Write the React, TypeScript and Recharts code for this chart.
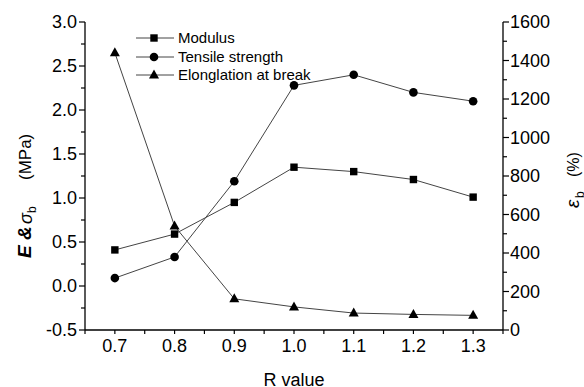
import { LineChart, Line, XAxis, YAxis, Label } from 'recharts';

const rValues = [0.7, 0.8, 0.9, 1.0, 1.1, 1.2, 1.3];
const modulus = [0.41, 0.59, 0.95, 1.35, 1.3, 1.21, 1.01];
const tensileStrength = [0.09, 0.33, 1.19, 2.28, 2.4, 2.2, 2.1];
const elongation = [1440, 540, 162, 120, 88, 81, 76];

const xTicks = [0.65, 0.7, 0.75, 0.8, 0.85, 0.9, 0.95, 1.0, 1.05, 1.1, 1.15, 1.2, 1.25, 1.3, 1.35];
const leftTicks = [-0.5, -0.25, 0, 0.25, 0.5, 0.75, 1.0, 1.25, 1.5, 1.75, 2.0, 2.25, 2.5, 2.75, 3.0];
const rightTicks = [0, 100, 200, 300, 400, 500, 600, 700, 800, 900, 1000, 1100, 1200, 1300, 1400, 1500, 1600];

const series = [
  { key: 'modulus', name: 'Modulus', shape: 'square', yAxisId: 'left' },
  { key: 'tensile', name: 'Tensile strength', shape: 'circle', yAxisId: 'left' },
  { key: 'elongation', name: 'Elonglation at break', shape: 'triangle', yAxisId: 'right' },
];

const data = rValues.map((r, i) => ({
  r,
  modulus: modulus[i],
  tensile: tensileStrength[i],
  elongation: elongation[i],
}));

const FONT = '"Liberation Sans", Arial, sans-serif';
const LINE_COLOR = '#444';
const TICK_SIZE = 4;
const TICK_MARGIN = 4;

const Marker = ({ shape, cx, cy }: { shape: string; cx: number; cy: number }) => {
  if (shape === 'square') return <rect x={cx - 3.7} y={cy - 3.7} width={7.4} height={7.4} fill="#000" />;
  if (shape === 'circle') return <circle cx={cx} cy={cy} r={4.3} fill="#000" />;
  return <polygon points={`${cx},${cy - 5.5} ${cx - 5},${cy + 3.5} ${cx + 5},${cy + 3.5}`} fill="#000" />;
};

const renderDot = (shape: string) => (props: any) => {
  const { cx, cy, index } = props;
  if (cx == null || cy == null) return <g key={`d-${shape}-${index}`} />;
  return (
    <g key={`d-${shape}-${index}`}>
      <Marker shape={shape} cx={cx} cy={cy} />
    </g>
  );
};

// half-step values get a bare tick, whole steps get a longer tick and a label
const isMajor = (v: number, step: number) => Math.abs(v / step - Math.round(v / step)) < 1e-6;

const XTick = (props: any) => {
  const { x, y, payload } = props;
  const v = payload.value;
  const major = isMajor(v, 0.1);
  const axisY = y - TICK_SIZE - TICK_MARGIN;
  return (
    <g>
      <line x1={x} x2={x} y1={axisY} y2={axisY + TICK_SIZE} stroke="#000" strokeWidth={1.2} />
      {major && (
        <text x={x} y={axisY + 22} textAnchor="middle" fontSize={18} fontFamily={FONT} fill="#000">
          {v.toFixed(1)}
        </text>
      )}
    </g>
  );
};

const LeftTick = (props: any) => {
  const { x, y, payload } = props;
  const v = payload.value;
  const major = isMajor(v, 0.5);
  const axisX = x + TICK_SIZE + TICK_MARGIN;
  return (
    <g>
      <line x1={axisX} x2={axisX - (major ? 6 : 4)} y1={y} y2={y} stroke="#000" strokeWidth={1.2} />
      {major && (
        <text x={axisX - 8} y={y + 6} textAnchor="end" fontSize={18} fontFamily={FONT} fill="#000">
          {v.toFixed(1)}
        </text>
      )}
    </g>
  );
};

const RightTick = (props: any) => {
  const { x, y, payload } = props;
  const v = payload.value;
  const major = v % 200 === 0;
  const axisX = x - TICK_SIZE - TICK_MARGIN;
  return (
    <g>
      <line x1={axisX} x2={axisX + (major ? 6 : 4)} y1={y} y2={y} stroke="#000" strokeWidth={1.2} />
      {major && (
        <text x={axisX + 7} y={y + 6} textAnchor="start" fontSize={18} fontFamily={FONT} fill="#000">
          {v}
        </text>
      )}
    </g>
  );
};

// rotated titles: local x runs upward from the bottom of the text
const LeftLabel = (props: any) => {
  const { viewBox } = props;
  const y0 = viewBox.y + viewBox.height / 2 + 82;
  const x0 = 31;
  return (
    <text transform={`translate(${x0} ${y0}) rotate(-90)`} fontFamily={FONT} fill="#000">
      <tspan x={0} y={0} fontWeight="bold" fontStyle="italic" fontSize={19}>E &amp;</tspan>
      <tspan x={34} y={1} fontStyle="italic" fontSize={18}>σ</tspan>
      <tspan x={45} y={5} fontSize={12}>b</tspan>
      <tspan x={78} y={0} fontSize={17}>(MPa)</tspan>
    </text>
  );
};

const RightLabel = (props: any) => {
  const { viewBox } = props;
  const y0 = viewBox.y + viewBox.height / 2 + 32;
  const x0 = 579;
  return (
    <text transform={`translate(${x0} ${y0}) rotate(-90)`} fontFamily={FONT} fill="#000">
      <tspan x={0} y={0} fontStyle="italic" fontSize={19}>ε</tspan>
      <tspan x={10} y={5} fontSize={12}>b</tspan>
      <tspan x={31} y={0} fontSize={16}>(%)</tspan>
    </text>
  );
};

const ChartLegend = () => (
  <div
    style={{
      position: 'absolute',
      left: 136,
      top: 29,
      fontFamily: FONT,
      fontSize: 15,
      lineHeight: '18.5px',
      color: '#000',
    }}
  >
    {series.map((s) => (
      <div key={s.key} style={{ display: 'flex', alignItems: 'center', height: 18.5 }}>
        <svg width={38} height={14} style={{ marginRight: 4 }}>
          <line x1={0} x2={38} y1={7} y2={7} stroke={LINE_COLOR} strokeWidth={1} />
          <Marker shape={s.shape} cx={18} cy={7} />
        </svg>
        <span>{s.name}</span>
      </div>
    ))}
  </div>
);

export default function App() {
  return (
    <div style={{ position: 'absolute', left: 0, top: 0, width: 584, height: 387, background: '#fff' }}>
      <LineChart width={584} height={387} data={data} margin={{ top: 22, right: 21, left: 25, bottom: 27 }}>
        {/* frame top edge */}
        <XAxis
          xAxisId="top"
          orientation="top"
          dataKey="r"
          type="number"
          domain={[0.65, 1.35]}
          tick={false}
          tickLine={false}
          axisLine={{ stroke: '#000', strokeWidth: 1.3 }}
          height={0}
        />
        <XAxis
          dataKey="r"
          type="number"
          domain={[0.65, 1.35]}
          ticks={xTicks}
          interval={0}
          tick={<XTick />}
          tickLine={false}
          tickSize={TICK_SIZE}
          tickMargin={TICK_MARGIN}
          axisLine={{ stroke: '#000', strokeWidth: 1.3 }}
          height={30}
        >
          <Label
            content={(p: any) => (
              <text
                x={p.viewBox.x + p.viewBox.width / 2}
                y={386}
                textAnchor="middle"
                fontSize={18}
                fontFamily={FONT}
                fill="#000"
              >
                R value
              </text>
            )}
          />
        </XAxis>
        <YAxis
          yAxisId="left"
          domain={[-0.5, 3.0]}
          ticks={leftTicks}
          interval={0}
          tick={<LeftTick />}
          tickLine={false}
          tickSize={TICK_SIZE}
          tickMargin={TICK_MARGIN}
          axisLine={{ stroke: '#000', strokeWidth: 1.3 }}
          width={60}
        >
          <Label content={<LeftLabel />} />
        </YAxis>
        <YAxis
          yAxisId="right"
          orientation="right"
          domain={[0, 1600]}
          ticks={rightTicks}
          interval={0}
          tick={<RightTick />}
          tickLine={false}
          tickSize={TICK_SIZE}
          tickMargin={TICK_MARGIN}
          axisLine={{ stroke: '#000', strokeWidth: 1.3 }}
          width={60}
        >
          <Label content={<RightLabel />} />
        </YAxis>
        {series.map((s) => (
          <Line
            key={s.key}
            type="linear"
            dataKey={s.key}
            name={s.name}
            yAxisId={s.yAxisId}
            stroke={LINE_COLOR}
            strokeWidth={1}
            dot={renderDot(s.shape)}
            activeDot={false}
            isAnimationActive={false}
          />
        ))}
      </LineChart>
      <ChartLegend />
    </div>
  );
}
